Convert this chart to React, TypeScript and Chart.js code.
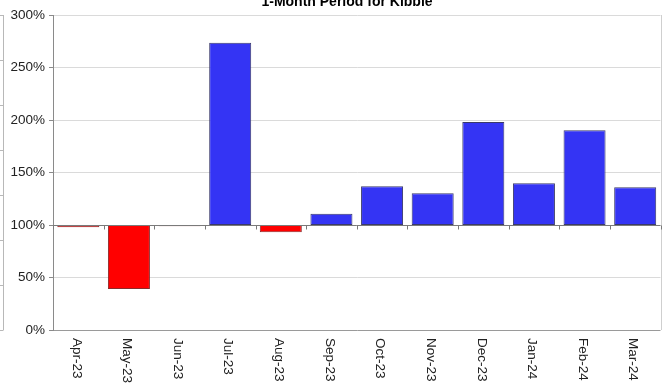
import React, { useEffect, useRef } from 'react';
import { Chart, registerables } from 'chart.js';

Chart.register(...registerables);

const chartTitle = '1-Month Period for Kibble';
const months = ['Apr-23', 'May-23', 'Jun-23', 'Jul-23', 'Aug-23', 'Sep-23', 'Oct-23', 'Nov-23', 'Dec-23', 'Jan-24', 'Feb-24', 'Mar-24'];
const ratios = [97.8, 39, 98.8, 273.6, 93, 110.8, 136.9, 130.2, 198.1, 139.7, 190.2, 135.9];
const baseline = 100;
const yMin = 0;
const yMax = 300;
const yStep = 50;

const BLUE = '#3434F4';
const RED = '#FF0000';
const FONT = 'Arial, "Liberation Sans", sans-serif';

const decorPlugin = {
  id: 'decor',
  beforeDatasetsDraw(chart: any) {
    const { ctx, chartArea } = chart;
    ctx.save();
    // right border
    ctx.strokeStyle = '#cfcfcf';
    ctx.lineWidth = 1;
    ctx.beginPath();
    ctx.moveTo(Math.round(chartArea.right) + 0.5, chartArea.top);
    ctx.lineTo(Math.round(chartArea.right) + 0.5, chartArea.bottom);
    ctx.stroke();
    // left artifact axis of neighbouring chart
    ctx.strokeStyle = '#b8b8b8';
    ctx.beginPath();
    ctx.moveTo(3.5, chartArea.top);
    ctx.lineTo(3.5, chartArea.bottom);
    for (let i = 0; i <= 7; i++) {
      const y = Math.round(chartArea.top + ((chartArea.bottom - chartArea.top) * i) / 7) + 0.5;
      ctx.moveTo(0, y);
      ctx.lineTo(3.5, y);
    }
    ctx.stroke();
    ctx.restore();
  },
  afterDatasetsDraw(chart: any) {
    const { ctx, chartArea, scales } = chart;
    const x = scales.x;
    const y = scales.y;
    const yb = Math.round(y.getPixelForValue(baseline)) + 0.5;
    ctx.save();
    ctx.strokeStyle = '#7a7a7a';
    ctx.lineWidth = 1;
    ctx.beginPath();
    ctx.moveTo(chartArea.left, yb);
    ctx.lineTo(chartArea.right, yb);
    const n = months.length;
    const w = (chartArea.right - chartArea.left) / n;
    for (let i = 0; i <= n; i++) {
      const xx = Math.round(chartArea.left + i * w) + 0.5;
      ctx.moveTo(xx, yb);
      ctx.lineTo(xx, yb + 4);
    }
    ctx.stroke();
    // x labels rotated clockwise
    ctx.fillStyle = '#222';
    ctx.font = `13.5px ${FONT}`;
    ctx.textAlign = 'left';
    ctx.textBaseline = 'middle';
    months.forEach((m, i) => {
      const cx = x.getPixelForValue(i) - 2;
      ctx.save();
      ctx.translate(cx, chartArea.bottom + 8);
      ctx.rotate(Math.PI / 2);
      ctx.fillText(m, 0, 0);
      ctx.restore();
    });
    // title (cut off at top)
    ctx.font = `bold 14px ${FONT}`;
    ctx.textAlign = 'center';
    ctx.textBaseline = 'alphabetic';
    ctx.fillStyle = '#000';
    ctx.fillText(chartTitle, 347, 6);
    ctx.restore();
  },
};

export default function App() {
  const ref = useRef<HTMLCanvasElement>(null);
  useEffect(() => {
    document.body.style.margin = '0';
    const canvas = ref.current;
    if (!canvas) return;
    const chart = new Chart(canvas, {
      type: 'bar',
      data: {
        labels: months,
        datasets: [
          {
            data: ratios.map((v) => [baseline, v]) as any,
            backgroundColor: ratios.map((v) => (v < baseline ? RED : BLUE)),
            borderColor: ratios.map((v) => (v < baseline ? '#8a2a2a' : '#3a3a6a')),
            borderWidth: 1,
            borderSkipped: false,
            categoryPercentage: 1,
            barPercentage: 0.83,
          },
        ],
      },
      options: {
        responsive: false,
        animation: false,
        layout: { padding: { left: 0, top: 15, right: 4.5, bottom: 0 } },
        plugins: { legend: { display: false }, tooltip: { enabled: false }, title: { display: false } },
        scales: {
          x: {
            offset: true,
            grid: { display: false },
            border: { display: false },
            ticks: { display: false },
            afterFit: (s: any) => {
              s.height = 55;
            },
          },
          y: {
            min: yMin,
            max: yMax,
            border: { display: true, color: '#8a8a8a' },
            grid: {
              color: (c: any) => (c.tick && c.tick.value === yMin ? '#9a9a9a' : '#dadada'),
              tickColor: '#8a8a8a',
              tickLength: 4,
            },
            ticks: {
              stepSize: yStep,
              padding: 4,
              color: '#222',
              font: { family: FONT, size: 13.5 },
              callback: (v: any) => `${v}%`,
            },
            afterFit: (s: any) => {
              s.width = 53;
            },
          },
        },
      },
      plugins: [decorPlugin],
    });
    return () => chart.destroy();
  }, []);
  return (
    <div style={{ width: 665, height: 385 }}>
      <canvas ref={ref} width={665} height={385} />
    </div>
  );
}
